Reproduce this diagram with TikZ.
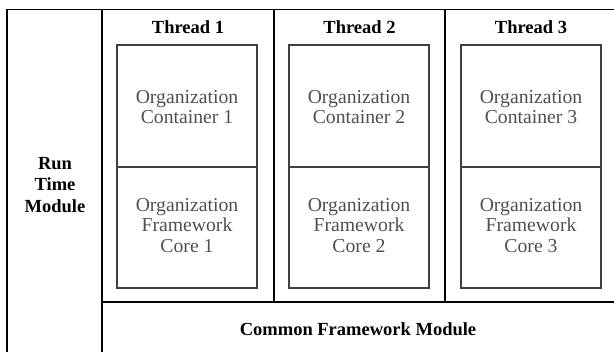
\documentclass[tikz,border=0pt]{standalone}
\usepackage{fontspec}
\setmainfont{Liberation Serif}
\usetikzlibrary{positioning}
\definecolor{lightink}{HTML}{505050}
\tikzset{
  frame/.style={draw=black, line width=1.1pt, inner sep=0pt, outer sep=0pt},
  inbox/.style={draw=black!75, line width=1.1pt, inner sep=0pt, outer sep=0pt,
     minimum width=140pt},
  title/.style={font=\fontsize{18.5}{21.5}\selectfont\bfseries, text=black, align=center, inner sep=0pt},
  body/.style={font=\fontsize{19.7}{20.5}\selectfont, text=lightink, align=center, inner sep=0pt}
}
\begin{document}
\begin{tikzpicture}[x=1pt,y=-1pt]
\useasboundingbox (0,0) rectangle (614,352);
\clip (0,0) rectangle (614,352);
% outer structure
\node[frame, minimum width=95pt, minimum height=350pt, anchor=north west] (rtm) at (7,9.5) {};
\node[frame, minimum width=172pt, minimum height=292.5pt, anchor=north west] (col1) at (102,9.5) {};
\node[frame, minimum width=171pt, minimum height=292.5pt, anchor=north west] (col2) at (274,9.5) {};
\node[frame, minimum width=171pt, minimum height=292.5pt, anchor=north west] (col3) at (445,9.5) {};
\node[frame, minimum width=514pt, minimum height=60pt, anchor=north west] (cfm) at (102,302) {};
% titles
\node[title] (t1) at (188,27.5) {Thread 1};
\node[title] (t2) at (359.5,27.5) {Thread 2};
\node[title] (t3) at (531,27.5) {Thread 3};
\node[title] (rtmtext) at (55,185) {Run\\Time\\Module};
\node[title] (cfmtext) at (358,329) {Common Framework Module};
% inner boxes
\foreach \i/\cx in {1/187, 2/359, 3/531}{
  \node[inbox, minimum height=122pt, anchor=north] (oc\i) at (\cx,45) {};
  \node[inbox, minimum height=121pt, anchor=north] (of\i) at (\cx,167) {};
  \node[body] (oct\i) at ([yshift=-1pt]oc\i.center) {Organization\\Container \i};
  \node[body] (oft\i) at ([yshift=2pt]of\i.center) {Organization\\Framework\\Core \i};
}
\end{tikzpicture}
\end{document}
